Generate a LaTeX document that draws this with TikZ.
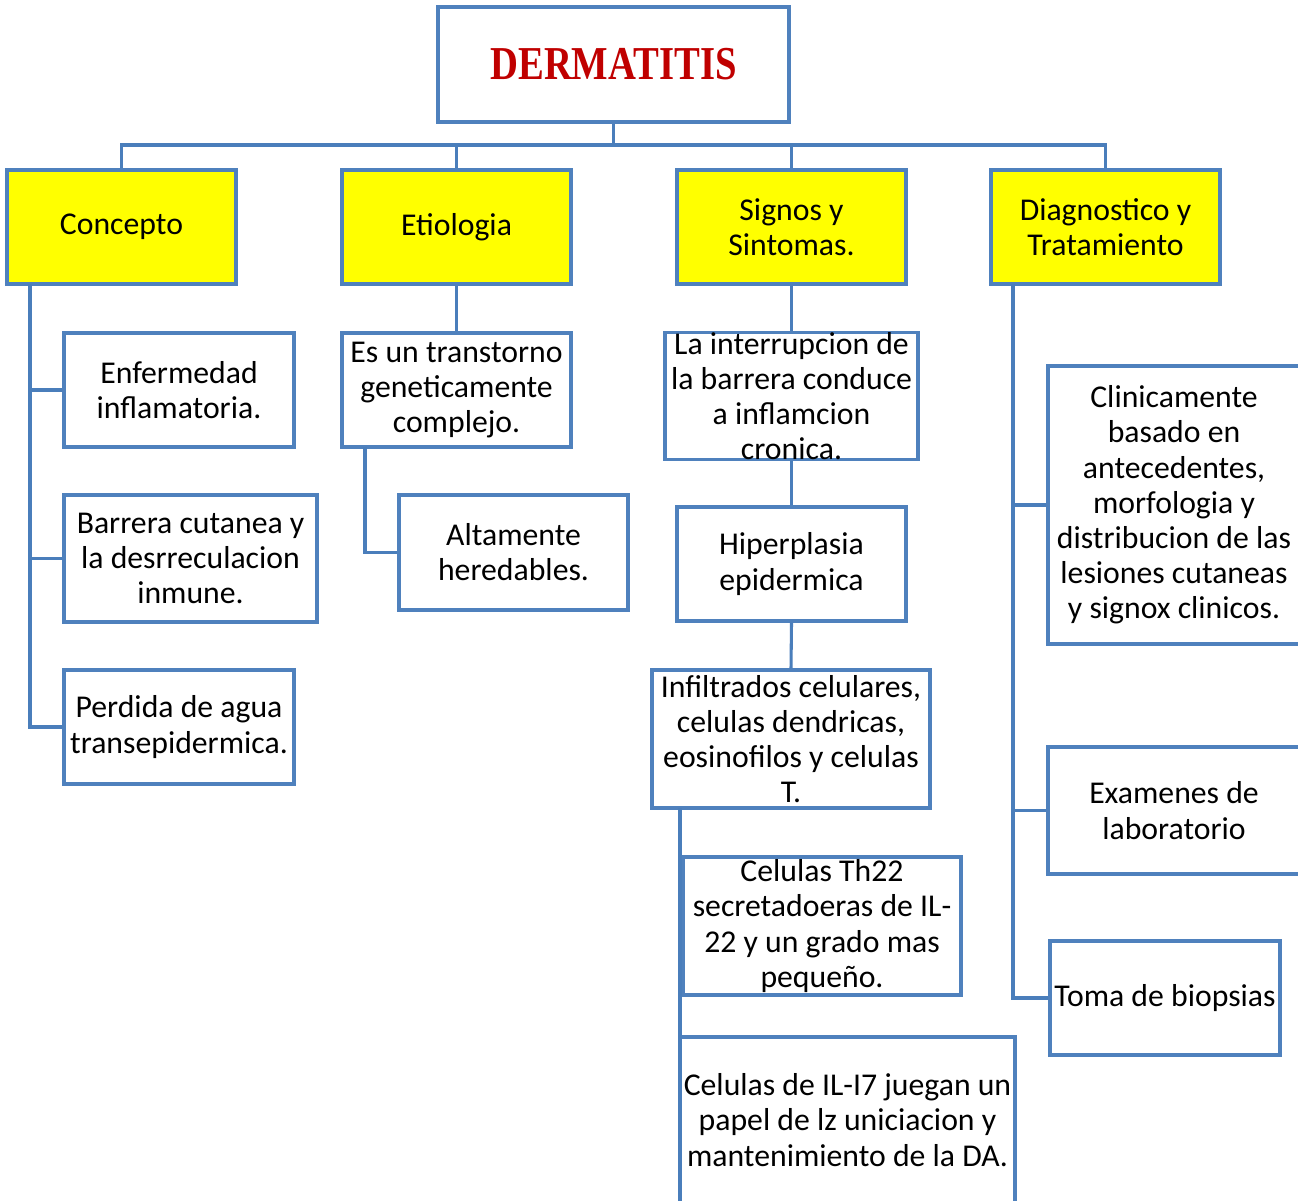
\documentclass[tikz,border=0pt]{standalone}
\usepackage{fontspec}
\setmainfont{Carlito}
\newfontfamily\titlefont{Liberation Serif}
\definecolor{bord}{HTML}{4F81BD}
\definecolor{linec}{HTML}{4A7EBB}
\definecolor{ttl}{HTML}{C00000}
\definecolor{hdfill}{HTML}{FFFF00}
\tikzset{
  bx/.style 2 args={draw=bord, line width=2.3pt, fill=white, inner sep=0pt, align=center,
    minimum width={#1*0.75pt}, minimum height={#2*0.75pt},
    font=\fontsize{23.8}{26.4}\selectfont},
  hd/.style={fill=hdfill},
  conn/.style={draw=linec, line width=2.3pt}
}
\begin{document}
\begin{tikzpicture}[x=0.75pt,y=-0.75pt]
\useasboundingbox (0,0) rectangle (1298,1201);
\clip (0,0) rectangle (1298,1201);
\fill[white] (0,0) rectangle (1298,1201);

\coordinate (bus) at (613.5,145);
\coordinate (ctr) at (30,284);
\coordinate (etr) at (365,447);
\coordinate (str) at (680,808);
\coordinate (dtr) at (1013,284);

\node[bx={351}{115}] (title) at (613.5,64.5) {\titlefont\fontsize{29}{34}\selectfont\color{ttl}\scalebox{1}[1.22]{\bfseries DERMATITIS}};

\node[bx={229}{114},hd] (conc) at (121.5,227) {Concepto};
\node[bx={229}{114},hd] (etio) at (456.5,227) {Etiologia};
\node[bx={229}{114},hd] (sign) at (791.5,227) {Signos y\\Sintomas.};
\node[bx={229}{114},hd] (diag) at (1105.5,227) {Diagnostico y\\Tratamiento};

\node[bx={230}{114}] (enf) at (179,390) {Enfermedad\\inflamatoria.};
\node[bx={253}{127}] (barr) at (190.5,558.5) {Barrera cutanea y\\la desrreculacion\\inmune.};
\node[bx={230}{114}] (perd) at (179,727) {Perdida de agua\\transepidermica.};

\node[bx={229}{114}] (esun) at (456.5,390) {Es un transtorno\\geneticamente\\complejo.};
\node[bx={229}{115}] (alta) at (513.5,552.5) {Altamente\\heredables.};

\node[bx={253}{126}] (inte) at (791.5,396) {La interrupcion de\\la barrera conduce\\a inflamcion\\cronica.};
\node[bx={229}{114}] (hipe) at (791.5,564) {Hiperplasia\\epidermica};
\node[bx={278}{138}] (infi) at (791,739) {Infiltrados celulares,\\celulas dendricas,\\eosinofilos y celulas\\T.};
\node[bx={278}{138}] (th22) at (822,926) {Celulas Th22\\secretadoeras de IL-\\22 y un grado mas\\pequeño.};
\node[bx={335}{166}] (il17) at (847.5,1120) {Celulas de IL-I7 juegan un\\papel de lz uniciacion y\\mantenimiento de la DA.};

\node[bx={252}{278}] (clin) at (1174,505) {Clinicamente\\basado en\\antecedentes,\\morfologia y\\distribucion de las\\lesiones cutaneas\\y signox clinicos.};
\node[bx={252}{127}] (exam) at (1174,810.5) {Examenes de\\laboratorio};
\node[bx={230}{114}] (toma) at (1165,998) {Toma de biopsias};

% level 0 -> level 1
\draw[conn] (title.south) -- (bus);
\draw[conn] (conc.north) -- (conc.north |- bus) -- (diag.north |- bus) -- (diag.north);
\draw[conn] (etio.north) -- (etio.north |- bus);
\draw[conn] (sign.north) -- (sign.north |- bus);

% Concepto
\draw[conn] (ctr) |- (perd.west);
\draw[conn] (enf.west) -- (enf.west -| ctr);
\draw[conn] (barr.west) -- (barr.west -| ctr);

% Etiologia
\draw[conn] (etio.south) -- (esun.north);
\draw[conn] (etr) |- (alta.west);

% Signos
\draw[conn] (sign.south) -- (inte.north);
\draw[conn] (inte.south) -- (hipe.north);
\draw[conn] (hipe.south) -- (infi.north);
\draw[conn] (str) -- (str |- 0,1210);
\draw[conn] (th22.west) -- (th22.west -| str);

% Diagnostico
\draw[conn] (dtr) |- (toma.west);
\draw[conn] (clin.west) -- (clin.west -| dtr);
\draw[conn] (exam.west) -- (exam.west -| dtr);
\end{tikzpicture}
\end{document}
